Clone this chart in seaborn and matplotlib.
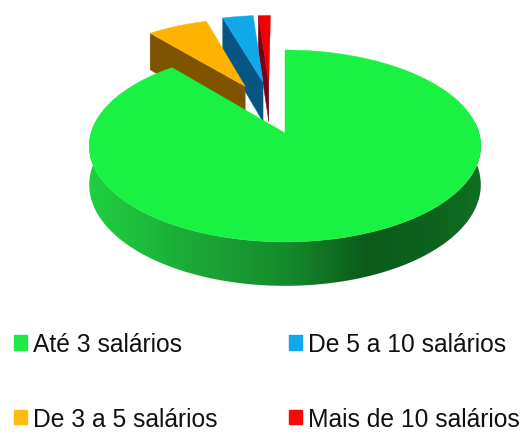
import numpy as np
import matplotlib
matplotlib.use("Agg")
import matplotlib.pyplot as plt
from matplotlib.patches import Polygon, Patch
from matplotlib.colors import to_rgb
import seaborn as sns

# Income bands and their shares of the whole (%), clockwise from 12 o'clock
categories = ["Até 3 salários", "De 3 a 5 salários", "De 5 a 10 salários", "Mais de 10 salários"]
shares = [88.9, 6.5, 3.3, 1.3]

sns.set_theme(style="white")
plt.rcParams["font.family"] = ["Liberation Sans", "DejaVu Sans"]

top_colors = sns.color_palette(["#1AF243", "#FFB300", "#0FA8E8", "#F00000"])
wall_colors = ["#128A2C", "#7F5200", "#055585", "#7A0018"]
legend_colors = ["#1FE84A", "#FFBB10", "#12A8EC", "#F50A0A"]

# Projection of the pie's ground plane onto the canvas (pixel units)
APEX_X, APEX_Y = 285.0, 134.0
SCALE_X, SCALE_Y = 194.0, 94.2
FORESHORTEN = 0.135
DEPTH = 38.0
# Displacement of each pulled-out slice on the ground plane, their radius and wall height
OFFSETS = [(0.0, 0.0), (-0.22, 0.53), (-0.122, 0.58), (-0.09, 0.58)]
PULLED_RADIUS = 0.92
PULLED_DEPTH = 1.12


def project(u, v):
    w = 1 + FORESHORTEN * np.asarray(v)
    return APEX_X + SCALE_X * np.asarray(u) / w, APEX_Y - SCALE_Y * np.asarray(v) / w


def drop(v):
    return DEPTH / (1 + FORESHORTEN * np.asarray(v))


def wedge_outline(a0, a1, off, radius=1.0, n=120):
    ang = np.radians(np.linspace(a0, a1, n))
    u = np.r_[off[0], off[0] + radius * np.sin(ang)]
    v = np.r_[off[1], off[1] + radius * np.cos(ang)]
    return u, v


fig = plt.figure(figsize=(5.31, 4.35), dpi=100)
ax = fig.add_axes([0, 0, 1, 1])
ax.axis("off")

# Sweep of each slice in degrees: the first runs clockwise from 0, the rest fill up to 360
sweeps = np.array(shares) / sum(shares) * 360
edges = np.r_[0, np.cumsum(sweeps)]

# Pulled-out slices, back to front: radial wall first, then the top face
for i in [3, 2, 1]:
    off = OFFSETS[i]
    a0, a1 = edges[i], edges[i + 1]
    u, v = wedge_outline(a0, a1, off, PULLED_RADIUS)
    x, y = project(u, v)
    # Radial wall along the slice's leading edge, the one turned towards the viewer
    eu = np.array([off[0], off[0] + PULLED_RADIUS * np.sin(np.radians(a0))])
    ev = np.array([off[1], off[1] + PULLED_RADIUS * np.cos(np.radians(a0))])
    wx, wy = project(eu, ev)
    d = drop(ev) * PULLED_DEPTH
    ax.add_patch(Polygon([(wx[0], wy[0]), (wx[1], wy[1]), (wx[1], wy[1] + d[1]), (wx[0], wy[0] + d[0])],
                         closed=True, fc=wall_colors[i], ec=wall_colors[i], lw=0.3, zorder=2 + (3 - i)))
    ax.add_patch(Polygon(np.c_[x, y], closed=True, fc=top_colors[i], ec=top_colors[i], lw=0.3, zorder=2 + (3 - i)))

# Rim of the large slice, shaded left to right across the front
stops_x = [91, 200, 290, 366, 440, 483]
stops_rgb = np.array([to_rgb(c) for c in ["#1FCF40", "#1CA636", "#15892B", "#0B5A1B", "#0E641F", "#107024"]])
grad_x = np.linspace(85, 490, 405)
gradient = np.stack([np.interp(grad_x, stops_x, stops_rgb[:, c]) for c in range(3)], axis=-1)[None, :, :]
ang = np.radians(np.linspace(edges[0], edges[1], 720))
ang = ang[np.cos(ang) < 0.12]
ru, rv = np.sin(ang), np.cos(ang)
rx, ry = project(ru, rv)
rd = drop(rv)
# The rim path runs along the top arc then back along the same arc shifted down
rim_outline = np.r_[np.c_[rx, ry], np.c_[rx, ry + rd][::-1]]
rim_clip = Polygon(rim_outline, closed=True, transform=ax.transData, fc="none", ec="none")
ax.add_patch(rim_clip)
rim = ax.imshow(gradient, extent=(85, 490, 300, 100), aspect="auto", zorder=6, interpolation="bilinear")
rim.set_clip_path(rim_clip)

# Top face of the large slice
u, v = wedge_outline(edges[0], edges[1], OFFSETS[0], n=400)
x, y = project(u, v)
ax.add_patch(Polygon(np.c_[x, y], closed=True, fc=top_colors[0], ec=top_colors[0], lw=0.3, zorder=7))

ax.set_xlim(0, 531)
ax.set_ylim(435, 0)

handles = [Patch(fc=c, ec=c) for c in legend_colors]
ax.legend(handles, categories, ncol=2, loc="upper left", bbox_to_anchor=(14 / 531, 1 - 333 / 435),
          bbox_transform=ax.transAxes, frameon=False, fontsize=17.7, labelcolor="#111111",
          handlelength=0.53, handleheight=0.53, handletextpad=0.24, columnspacing=2.93,
          labelspacing=2.06, borderpad=0, borderaxespad=0)

fig.savefig("out.png", dpi=100)
